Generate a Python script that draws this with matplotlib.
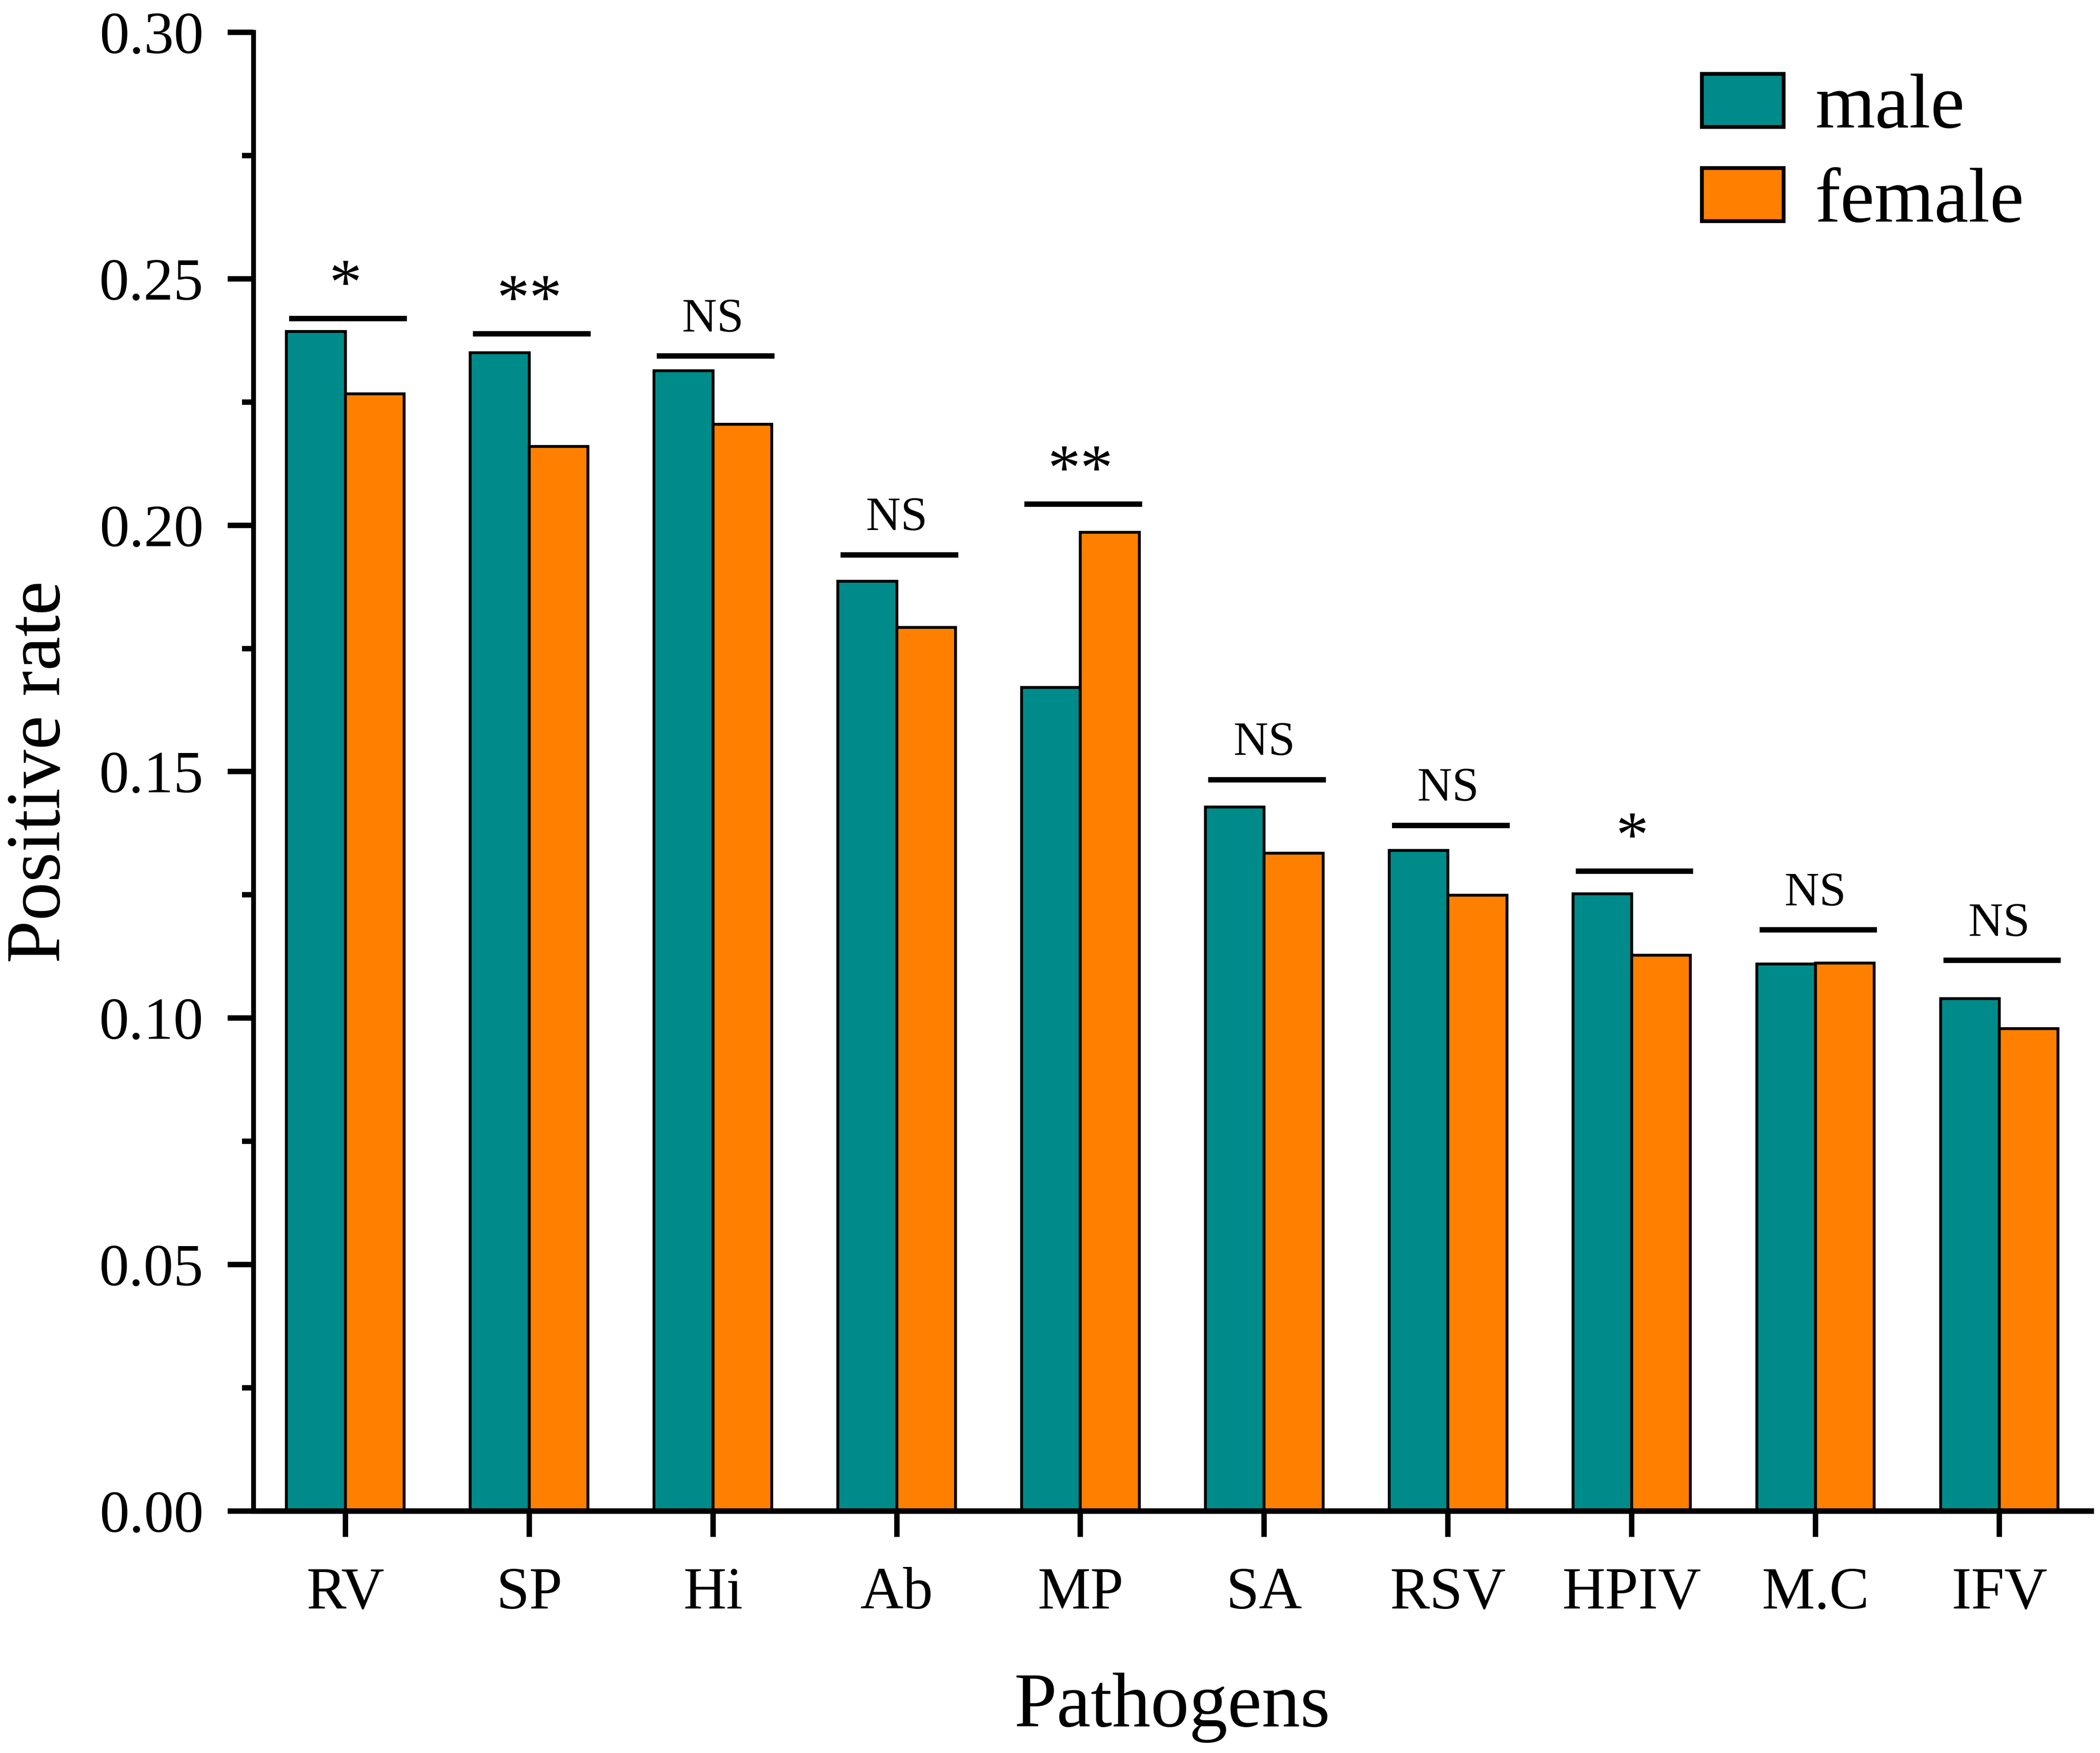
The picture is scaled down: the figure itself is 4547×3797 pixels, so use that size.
import numpy as np
import matplotlib
matplotlib.use("Agg")
import matplotlib.pyplot as plt
from matplotlib.ticker import MultipleLocator

plt.rcParams['font.family'] = ['Liberation Serif', 'DejaVu Serif']

# data
pathogens = ['RV', 'SP', 'Hi', 'Ab', 'MP', 'SA', 'RSV', 'HPIV', 'M.C', 'IFV']
male = [0.2393, 0.2350, 0.2313, 0.1886, 0.1671, 0.1428, 0.1340, 0.1252, 0.1110, 0.1040]
female = [0.2267, 0.2160, 0.2205, 0.1793, 0.1986, 0.1335, 0.1249, 0.1128, 0.1112, 0.0979]
sig_marks = ['*', '**', 'NS', 'NS', '**', 'NS', 'NS', '*', 'NS', 'NS']
sig_heights = [0.2419, 0.2388, 0.2343, 0.1940, 0.2043, 0.1484, 0.1391, 0.1298, 0.1179, 0.1117]

teal = '#008B8B'
orange = '#FF8000'

fig = plt.figure(figsize=(4547 / 300, 3797 / 300), dpi=300)
ax = fig.add_axes([0.1207, 0.138, 0.9958 - 0.1207, 0.9816 - 0.138])

x = np.arange(len(pathogens))
w = 0.32
ax.bar(x - w / 2, male, width=w, color=teal, edgecolor='black', linewidth=1.5, label='male')
ax.bar(x + w / 2, female, width=w, color=orange, edgecolor='black', linewidth=1.5, label='female')

# significance bars
for i, (mark, h) in enumerate(zip(sig_marks, sig_heights)):
    ax.plot([i - 0.305, i + 0.335], [h, h], color='black', lw=2.8, solid_capstyle='butt')
    if mark == 'NS':
        ax.text(i, h + 0.005, mark, ha='center', va='baseline', fontsize=25)
    else:
        ax.text(i, h + 0.003, mark, ha='center', va='baseline', fontsize=34)

ax.set_xlim(-0.5, 9.5)
ax.set_ylim(0, 0.30)
ax.set_xticks(x)
ax.set_xticklabels(pathogens)
ax.yaxis.set_major_locator(MultipleLocator(0.05))
ax.yaxis.set_minor_locator(MultipleLocator(0.025))
ax.yaxis.set_major_formatter(matplotlib.ticker.FormatStrFormatter('%.2f'))

for s in ['top', 'right']:
    ax.spines[s].set_visible(False)
ax.spines['left'].set_linewidth(2.5)
ax.spines['bottom'].set_linewidth(2.9)

ax.tick_params(axis='both', which='major', direction='out', length=13.5, width=2.8,
               labelsize=31, pad=12.5)
ax.tick_params(axis='x', which='major', pad=15.5)
ax.tick_params(axis='y', which='minor', direction='out', length=6, width=2.8)
ax.tick_params(axis='x', which='minor', bottom=False)

fig.text(89 / 4547, 0.5 * (0.138 + 0.9816), 'Positive rate', rotation=90,
         ha='center', va='center', fontsize=40)
fig.text(2538 / 4547, 1 - 3739 / 3797, 'Pathogens', ha='center', va='baseline', fontsize=40)

leg = ax.legend(loc='upper left', bbox_to_anchor=(3685 / 4547, 0.958),
                bbox_transform=fig.transFigure, frameon=False, fontsize=40,
                handlelength=1.06, handleheight=0.68, handletextpad=0.41,
                labelspacing=0.31, borderpad=0, borderaxespad=0)
for p in leg.get_patches():
    p.set_linewidth(2.0)

plt.savefig('out.png', dpi=300)
